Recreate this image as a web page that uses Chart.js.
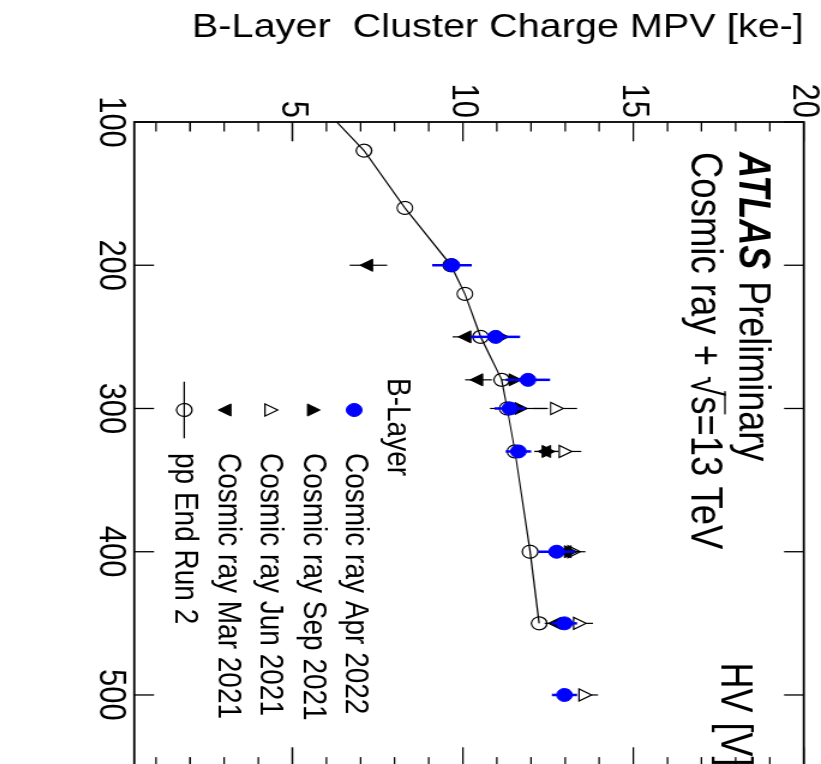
<!DOCTYPE html>
<html>
<head>
<meta charset="utf-8">
<script src="https://cdn.jsdelivr.net/npm/chart.js@4/dist/chart.umd.min.js"></script>
<style>
  html, body { margin: 0; padding: 0; background: #fff; overflow: hidden; }
  #wrap { position: relative; width: 821px; height: 764px; overflow: hidden; background: #fff; }
  /* the plot is drawn upright, then turned a quarter turn clockwise */
  #plot { position: absolute; left: 0; top: 0; transform-origin: 0 0;
          transform: translate(821px, 0) rotate(90deg) scale(1, 1.2); }
</style>
</head>
<body>
<div id="wrap"><canvas id="plot" width="770" height="685"></canvas></div>
<script>
// -----------------------------
// HV scan data : HV [V] -> cluster charge MPV [ke-]
// -----------------------------
const hvApr22  = [200, 250, 280, 300, 330, 400, 450, 500];
const mpvApr22 = [9.68, 10.96, 11.91, 11.38, 11.63, 12.75, 12.98, 12.98];
const errApr22 = [0.58, 0.72, 0.65, 0.45, 0.37, 0.54, 0.37, 0.37];

const hvSep21  = [250, 280, 300, 330, 400];
const mpvSep21 = [11.10, 11.48, 11.65, 12.45, 13.10];
const errSep21 = [0.40, 0.35, 0.85, 0.35, 0.35];

const hvJun21  = [300, 330, 400, 450, 500];
const mpvJun21 = [12.70, 12.95, 13.20, 13.37, 13.53];
const errJun21 = [0.65, 0.52, 0.40, 0.45, 0.44];

const hvMar21  = [200, 250, 280, 330, 400, 450];
const mpvMar21 = [7.23, 10.11, 10.46, 12.45, 13.05, 12.75];
const errMar21 = [0.55, 0.41, 0.39, 0.35, 0.35, 0.35];

const hvPP  = [80, 120, 160, 200, 220, 250, 280, 300, 330, 400, 450];
const mpvPP = [5.50, 7.10, 8.30, 9.65, 10.06, 10.52, 11.14, 11.30, 11.53, 11.97, 12.24];

const hvTicks  = [100, 200, 300, 400, 500];
const mpvTicks = [5, 10, 15, 20];
const mpvMinorStep = 1;

const FONT = '"Liberation Sans", Arial, Helvetica, sans-serif';
const BLUE = '#0000ff';

function pts(hv, mpv) {
  return hv.map((h, i) => ({ x: h, y: mpv[i] }));
}

// -----------------------------
// Error bars (vertical, gap around the marker like ROOT)
// -----------------------------
const errorBars = {
  id: 'errorBars',
  beforeDatasetDraw(chart, args) {
    const ds = chart.data.datasets[args.index];
    if (!ds.errors) return;
    const { ctx, chartArea: a, scales: { x, y } } = chart;
    ctx.save();
    ctx.beginPath();
    ctx.rect(a.left, a.top, a.width, a.height);
    ctx.clip();
    ctx.strokeStyle = ds.errColor;
    ctx.lineWidth = ds.errWidth;
    ctx.beginPath();
    ds.data.forEach((p, i) => {
      const px = x.getPixelForValue(p.x);
      const py = y.getPixelForValue(p.y);
      const hi = y.getPixelForValue(p.y + ds.errors[i]);
      const lo = y.getPixelForValue(p.y - ds.errors[i]);
      const gap = ds.errGap;
      if (py - hi > gap) { ctx.moveTo(px, hi); ctx.lineTo(px, py - gap); }
      if (lo - py > gap) { ctx.moveTo(px, py + gap); ctx.lineTo(px, lo); }
    });
    ctx.stroke();
    ctx.restore();
  }
};

// -----------------------------
// Frame + inward ticks
// -----------------------------
const frame = {
  id: 'frame',
  afterDatasetsDraw(chart) {
    const { ctx, chartArea: a, scales: { x, y } } = chart;
    ctx.save();
    ctx.strokeStyle = '#000';
    ctx.lineWidth = 1.8;
    ctx.strokeRect(a.left, a.top, a.width, a.height);

    ctx.lineWidth = 1.3;
    ctx.beginPath();
    hvTicks.forEach(v => {
      const px = x.getPixelForValue(v);
      ctx.moveTo(px, a.bottom); ctx.lineTo(px, a.bottom - 16.4);
      ctx.moveTo(px, a.top);    ctx.lineTo(px, a.top + 16.4);
    });
    for (let m = mpvMinorStep; m <= y.max; m += mpvMinorStep) {
      const py = y.getPixelForValue(m);
      const len = mpvTicks.includes(m) ? 19.3 : 9.5;
      ctx.moveTo(a.left, py);  ctx.lineTo(a.left + len, py);
      ctx.moveTo(a.right, py); ctx.lineTo(a.right - len, py);
    }
    ctx.stroke();
    ctx.restore();
  }
};

// -----------------------------
// ATLAS label, HV title, legend
// -----------------------------
function marker(ctx, ds, u, v) {
  ctx.save();
  ctx.fillStyle = ds.pointBackgroundColor;
  ctx.strokeStyle = ds.pointBorderColor;
  ctx.lineWidth = ds.pointBorderWidth;
  Chart.helpers.drawPoint(ctx, {
    pointStyle: ds.pointStyle,
    radius: ds.pointRadius,
    rotation: ds.pointRotation || 0,
    borderWidth: ds.pointBorderWidth
  }, u, v);
  ctx.restore();
}

const labels = {
  id: 'labels',
  afterDraw(chart) {
    const { ctx, chartArea: a } = chart;
    ctx.save();
    ctx.fillStyle = '#000';
    ctx.textBaseline = 'alphabetic';
    ctx.textAlign = 'left';

    // ATLAS Preliminary
    let u = 152;
    ctx.font = 'italic bold 36px ' + FONT;
    ctx.fillText('ATLAS', u, 67.5);
    u += ctx.measureText('ATLAS ').width + 2;
    ctx.font = '36px ' + FONT;
    ctx.fillText('Preliminary', u, 67.5);

    // Cosmic ray + sqrt(s)=13 TeV
    const v2 = 108;
    ctx.font = '36.5px ' + FONT;
    u = 152;
    ctx.fillText('Cosmic ray + ', u, v2);
    u += ctx.measureText('Cosmic ray + ').width;
    ctx.fillText('\u221A', u, v2);
    const wr = ctx.measureText('\u221A').width;
    const uS = u + wr;
    ctx.fillText('s', uS, v2);
    const ws = ctx.measureText('s').width;
    ctx.lineWidth = 1.3;
    ctx.beginPath();
    ctx.moveTo(u + wr * 0.75, v2 - 28);
    ctx.lineTo(uS + ws, v2 - 28);
    ctx.stroke();
    ctx.fillText('=13 TeV', uS + ws, v2);

    // HV axis title
    ctx.font = '36px ' + FONT;
    ctx.textAlign = 'right';
    ctx.fillText('HV [V]', a.right, 82.5);

    // legend
    ctx.textAlign = 'left';
    ctx.font = '28px ' + FONT;
    ctx.fillText('B-Layer', 378, 360.8);
    chart.data.datasets.forEach((ds, i) => {
      const base = 396 + i * 35.4;
      const mv = base - 7;
      if (ds.showLine) {
        ctx.strokeStyle = ds.borderColor;
        ctx.lineWidth = ds.borderWidth;
        ctx.beginPath();
        ctx.moveTo(381.7, mv); ctx.lineTo(438.3, mv);
        ctx.stroke();
      }
      marker(ctx, ds, 410, mv);
      ctx.fillStyle = '#000';
      ctx.fillText(ds.label, 453, base);
    });
    ctx.restore();
  }
};

// -----------------------------
// Chart
// -----------------------------
const tickFont = { family: FONT, size: 31 };
const pad = { top: 14.3, right: 3.4, left: 0, bottom: 0 };

const chart = new Chart(document.getElementById('plot'), {
  type: 'scatter',
  data: {
    datasets: [
      {
        label: 'Cosmic ray Apr 2022',
        data: pts(hvApr22, mpvApr22),
        errors: errApr22, errColor: BLUE, errWidth: 2.5, errGap: 0,
        pointStyle: 'circle', pointRadius: 6.5,
        pointBackgroundColor: BLUE, pointBorderColor: BLUE, pointBorderWidth: 1
      },
      {
        label: 'Cosmic ray Sep 2021',
        data: pts(hvSep21, mpvSep21),
        errors: errSep21, errColor: '#000', errWidth: 1.2, errGap: 0,
        pointStyle: 'triangle', pointRadius: 7,
        pointBackgroundColor: '#000', pointBorderColor: '#000', pointBorderWidth: 1
      },
      {
        label: 'Cosmic ray Jun 2021',
        data: pts(hvJun21, mpvJun21),
        errors: errJun21, errColor: '#000', errWidth: 1.2, errGap: 7,
        pointStyle: 'triangle', pointRadius: 7,
        pointBackgroundColor: 'rgba(255,255,255,0)', pointBorderColor: '#000', pointBorderWidth: 1.2
      },
      {
        label: 'Cosmic ray Mar 2021',
        data: pts(hvMar21, mpvMar21),
        errors: errMar21, errColor: '#000', errWidth: 1.2, errGap: 0,
        pointStyle: 'triangle', pointRotation: 180, pointRadius: 7,
        pointBackgroundColor: '#000', pointBorderColor: '#000', pointBorderWidth: 1
      },
      {
        label: 'pp End Run 2',
        data: pts(hvPP, mpvPP),
        showLine: true, borderColor: '#000', borderWidth: 1.2,
        pointStyle: 'circle', pointRadius: 6.5,
        pointBackgroundColor: 'rgba(255,255,255,0)', pointBorderColor: '#000', pointBorderWidth: 1.2
      }
    ]
  },
  options: {
    responsive: false,
    animation: false,
    devicePixelRatio: 1,
    events: [],
    layout: { padding: pad, autoPadding: false },
    plugins: { legend: { display: false }, tooltip: { enabled: false } },
    scales: {
      x: {
        type: 'linear', position: 'bottom', min: 100, max: 550,
        grid: { display: false, drawTicks: false },
        border: { display: false },
        ticks: { font: tickFont, color: '#000', padding: 1.5, autoSkip: false, maxRotation: 0, minRotation: 0 },
        afterBuildTicks: s => { s.ticks = hvTicks.map(value => ({ value })); },
        afterFit: s => { s.height = 112.75; s.paddingLeft = 0; s.paddingRight = 0; }
      },
      y: {
        type: 'linear', position: 'left', min: 0.364, max: 20,
        grid: { display: false, drawTicks: false },
        border: { display: false },
        ticks: { font: tickFont, color: '#000', padding: 4, autoSkip: false },
        title: {
          display: true, text: 'B-Layer  Cluster Charge MPV [ke-]', align: 'end',
          color: '#000', font: { family: FONT, size: 33 }, padding: { top: 8, bottom: 0 }
        },
        afterBuildTicks: s => { s.ticks = mpvTicks.map(value => ({ value })); },
        afterFit: s => { s.width = 122; s.paddingTop = 0; s.paddingBottom = 0; }
      }
    }
  },
  plugins: [errorBars, frame, labels]
});

// pin the plot area to its intended edges
const area = { left: 122, right: 766.6, top: 14.3, bottom: 572.25 };
for (let k = 0; k < 3; k++) {
  const a = chart.chartArea;
  pad.left += area.left - a.left;
  pad.top += area.top - a.top;
  pad.right += a.right - area.right;
  pad.bottom += a.bottom - area.bottom;
  chart.update();
}
</script>
</body>
</html>
